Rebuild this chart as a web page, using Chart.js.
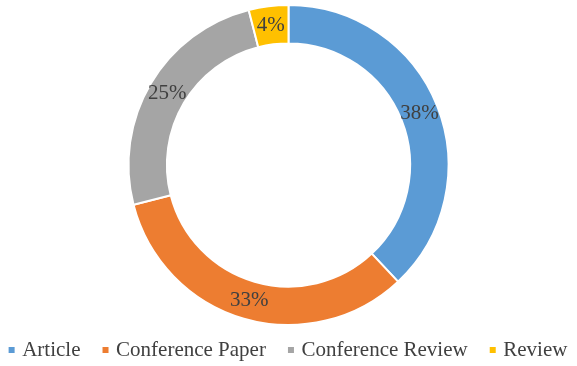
<!DOCTYPE html>
<html>
<head>
<meta charset="utf-8">
<script src="https://cdn.jsdelivr.net/npm/chart.js@4/dist/chart.umd.min.js"></script>
<style>
  html, body { margin: 0; padding: 0; background: #ffffff; }
  #wrap { width: 577px; height: 366px; }
</style>
</head>
<body>
<div id="wrap"><canvas id="c" width="577" height="366"></canvas></div>
<script>
const categories = ["Article", "Conference Paper", "Conference Review", "Review"];
const shares = [38, 33, 25, 4];
const sliceColors = ["#5B9BD5", "#ED7D31", "#A5A5A5", "#FFC000"];

const FONT = "'Liberation Serif', 'Times New Roman', serif";
const TEXT = "#404040";

const pctLabels = {
  id: "pctLabels",
  afterDatasetsDraw(chart) {
    const ctx = chart.ctx;
    const meta = chart.getDatasetMeta(0);
    const data = chart.data.datasets[0].data;
    const total = data.reduce((a, b) => a + b, 0);
    ctx.save();
    ctx.font = "21px " + FONT;
    ctx.fillStyle = TEXT;
    ctx.textAlign = "center";
    ctx.textBaseline = "middle";
    meta.data.forEach((arc, i) => {
      const p = arc.tooltipPosition();
      ctx.fillText(Math.round(data[i] / total * 100) + "%", p.x, p.y);
    });
    ctx.restore();
  }
};

new Chart(document.getElementById("c"), {
  type: "doughnut",
  data: {
    labels: categories,
    datasets: [{
      data: shares,
      backgroundColor: sliceColors,
      borderColor: "#ffffff",
      borderWidth: 2,
      clip: false
    }]
  },
  options: {
    responsive: false,
    devicePixelRatio: 1,
    animation: false,
    radius: 160,
    cutout: "76%",
    layout: { padding: { top: 15.5, bottom: -4.5, left: -17, right: -19 } },
    plugins: {
      tooltip: { enabled: false },
      legend: {
        position: "bottom",
        labels: {
          font: { family: FONT, size: 21 },
          color: TEXT,
          usePointStyle: true,
          pointStyle: "rect",
          boxWidth: 0.1,
          boxHeight: 6,
          padding: 25,
          generateLabels(chart) {
            return Chart.overrides.doughnut.plugins.legend.labels.generateLabels(chart)
              .map(l => Object.assign({}, l, { lineWidth: 0 }));
          }
        }
      }
    }
  },
  plugins: [pctLabels]
});
</script>
</body>
</html>
